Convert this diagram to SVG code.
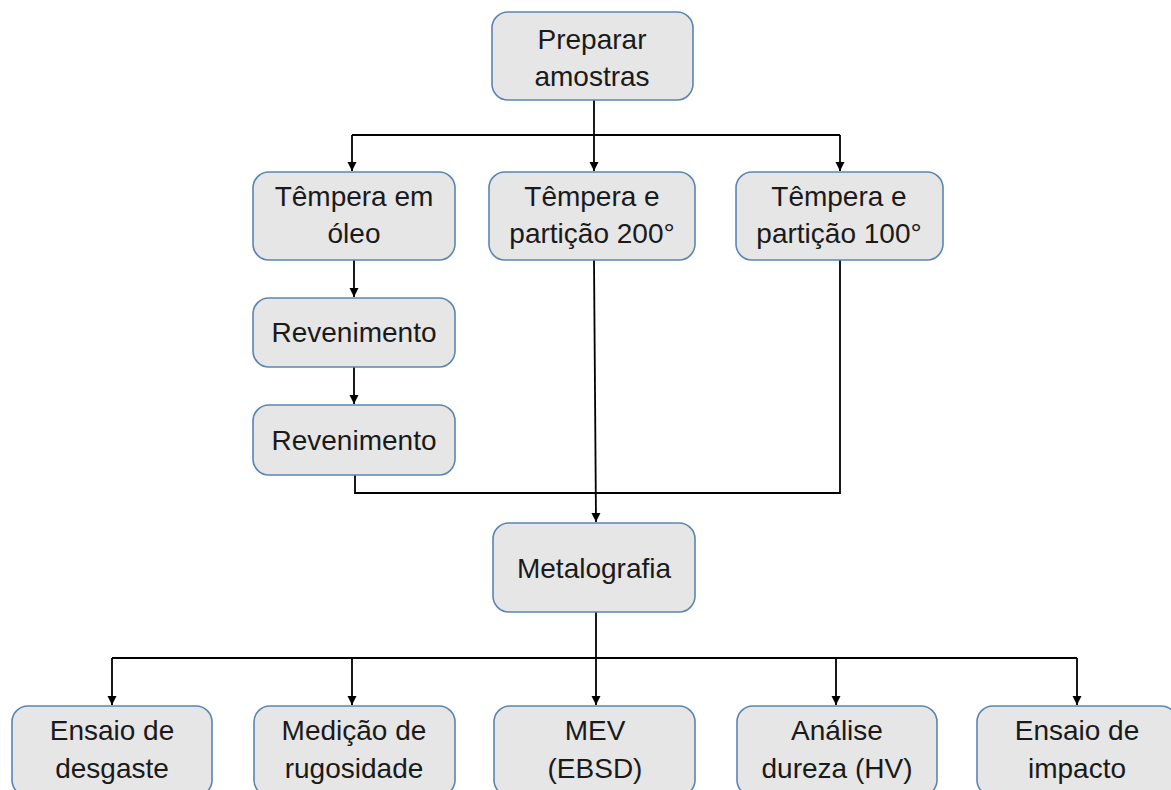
<svg xmlns="http://www.w3.org/2000/svg" width="1171" height="790" viewBox="0 0 1171 790">
<defs>
<marker id="arr" markerWidth="10" markerHeight="10" refX="9" refY="5" orient="auto" markerUnits="userSpaceOnUse">
<path d="M0,0.5 L9,5 L0,9.5 Z" fill="#000"/>
</marker>
<style>
.box{fill:#e6e6e6;stroke:#5b86b0;stroke-width:1.6}
.t{font-family:"Liberation Sans",Arial,sans-serif;font-size:28px;fill:#1a1a1a;text-anchor:middle}
.c{fill:none;stroke:#000;stroke-width:1.8}
</style>
</defs>
<rect width="1171" height="790" fill="#fff"/>
<g id="connectors">
<path class="c" d="M594,100 L594,135"/>
<path class="c" d="M352,135 L840,135"/>
<path class="c" d="M352,135 L352,171" marker-end="url(#arr)"/>
<path class="c" d="M594,135 L594,171" marker-end="url(#arr)"/>
<path class="c" d="M840,135 L840,171" marker-end="url(#arr)"/>
<path class="c" d="M354,260 L354,297" marker-end="url(#arr)"/>
<path class="c" d="M354,367 L354,404" marker-end="url(#arr)"/>
<path class="c" d="M355,475 L355,493 L840,493 L840,260"/>
<path class="c" d="M594,260 L596,522" marker-end="url(#arr)"/>
<path class="c" d="M596,612 L596,658"/>
<path class="c" d="M112,658 L1077,658"/>
<path class="c" d="M112,658 L112,705" marker-end="url(#arr)"/>
<path class="c" d="M352,658 L352,705" marker-end="url(#arr)"/>
<path class="c" d="M596,658 L596,705" marker-end="url(#arr)"/>
<path class="c" d="M836,658 L836,705" marker-end="url(#arr)"/>
<path class="c" d="M1077,658 L1077,705" marker-end="url(#arr)"/>
</g>
<g id="n-preparar"><rect class="box" x="492" y="12" width="201" height="88" rx="16"/><text class="t" x="592" y="49">Preparar</text><text class="t" x="592" y="86">amostras</text></g>
<g id="n-tempera-oleo"><rect class="box" x="253" y="172" width="202" height="88" rx="16"/><text class="t" x="354" y="206">Têmpera em</text><text class="t" x="354" y="243">óleo</text></g>
<g id="n-tempera-200"><rect class="box" x="489" y="172" width="206" height="88" rx="16"/><text class="t" x="592" y="206">Têmpera e</text><text class="t" x="592" y="243">partição 200°</text></g>
<g id="n-tempera-100"><rect class="box" x="736" y="172" width="207" height="88" rx="16"/><text class="t" x="839" y="206">Têmpera e</text><text class="t" x="839" y="243">partição 100°</text></g>
<g id="n-revenimento1"><rect class="box" x="253" y="298" width="202" height="69" rx="16"/><text class="t" x="354" y="342">Revenimento</text></g>
<g id="n-revenimento2"><rect class="box" x="253" y="405" width="202" height="70" rx="16"/><text class="t" x="354" y="450">Revenimento</text></g>
<g id="n-metalografia"><rect class="box" x="493" y="523" width="202" height="89" rx="16"/><text class="t" x="594" y="578">Metalografia</text></g>
<g id="n-desgaste"><rect class="box" x="12" y="706" width="200" height="90" rx="16"/><text class="t" x="112" y="740">Ensaio de</text><text class="t" x="112" y="778">desgaste</text></g>
<g id="n-rugosidade"><rect class="box" x="254" y="706" width="201" height="90" rx="16"/><text class="t" x="354" y="740">Medição de</text><text class="t" x="354" y="778">rugosidade</text></g>
<g id="n-mev"><rect class="box" x="494" y="706" width="201" height="90" rx="16"/><text class="t" x="595" y="740">MEV</text><text class="t" x="595" y="778">(EBSD)</text></g>
<g id="n-dureza"><rect class="box" x="737" y="706" width="200" height="90" rx="16"/><text class="t" x="837" y="740">Análise</text><text class="t" x="837" y="778">dureza (HV)</text></g>
<g id="n-impacto"><rect class="box" x="977" y="706" width="200" height="90" rx="16"/><text class="t" x="1077" y="740">Ensaio de</text><text class="t" x="1077" y="778">impacto</text></g>
</svg>
